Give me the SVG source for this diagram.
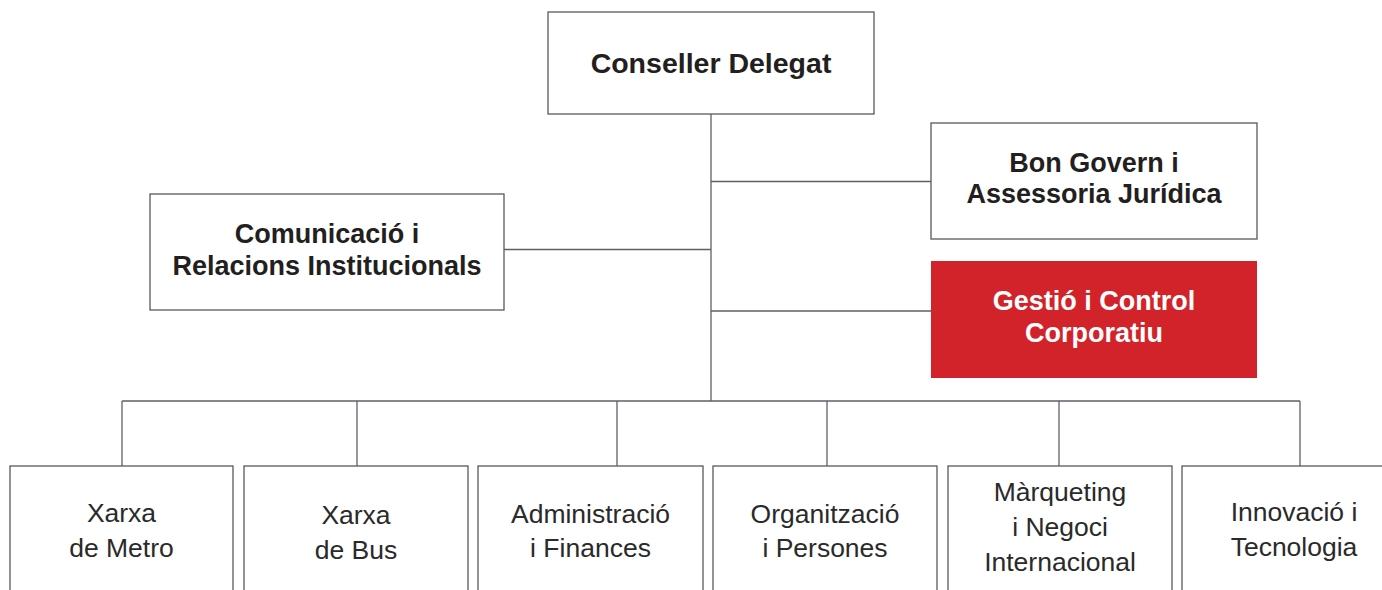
<svg xmlns="http://www.w3.org/2000/svg" width="1382" height="590" viewBox="0 0 1382 590">
<style>
  .box { fill: #ffffff; stroke: #58595b; stroke-width: 1.3; }
  .red { fill: #d2232a; stroke: none; }
  .conn { stroke: #5b6068; stroke-width: 1.3; fill: none; }
  .hb { font-family: "Liberation Sans", Arial, Helvetica, sans-serif; font-weight: bold; font-size: 27px; fill: #231f20; text-anchor: middle; }
  .hw { font-family: "Liberation Sans", Arial, Helvetica, sans-serif; font-weight: bold; font-size: 27px; fill: #ffffff; text-anchor: middle; }
  .t { font-family: "Liberation Sans", Arial, Helvetica, sans-serif; font-size: 26.5px; fill: #2a2a2a; text-anchor: middle; }
</style>
<rect x="0" y="0" width="1382" height="590" fill="#ffffff"/>
<g id="connectors">
  <line class="conn" x1="711" y1="114" x2="711" y2="401"/>
  <line class="conn" x1="711" y1="181.5" x2="931" y2="181.5"/>
  <line class="conn" x1="504" y1="249.5" x2="711" y2="249.5"/>
  <line class="conn" x1="711" y1="311" x2="931" y2="311"/>
  <line class="conn" x1="122" y1="401" x2="1300" y2="401"/>
  <line class="conn" x1="122" y1="401" x2="122" y2="466"/>
  <line class="conn" x1="357" y1="401" x2="357" y2="466"/>
  <line class="conn" x1="617" y1="401" x2="617" y2="466"/>
  <line class="conn" x1="827" y1="401" x2="827" y2="466"/>
  <line class="conn" x1="1059" y1="401" x2="1059" y2="466"/>
  <line class="conn" x1="1300" y1="401" x2="1300" y2="466"/>
</g>
<g id="conseller">
  <rect class="box" x="548" y="12" width="326" height="102"/>
  <text class="hb" x="711" y="73" style="font-size:28.5px">Conseller Delegat</text>
</g>
<g id="bon-govern">
  <rect class="box" x="931" y="123" width="326" height="116"/>
  <text class="hb" x="1094" y="172">Bon Govern i</text>
  <text class="hb" x="1094" y="203">Assessoria Jurídica</text>
</g>
<g id="comunicacio">
  <rect class="box" x="150" y="194" width="354" height="116"/>
  <text class="hb" x="327" y="243">Comunicació i</text>
  <text class="hb" x="327" y="275">Relacions Institucionals</text>
</g>
<g id="gestio">
  <rect class="red" x="931" y="261" width="326" height="117"/>
  <text class="hw" x="1094" y="310">Gestió i Control</text>
  <text class="hw" x="1094" y="342">Corporatiu</text>
</g>
<g id="xarxa-metro">
  <rect class="box" x="10" y="466" width="223" height="140"/>
  <text class="t" x="121.5" y="522">Xarxa</text>
  <text class="t" x="121.5" y="557">de Metro</text>
</g>
<g id="xarxa-bus">
  <rect class="box" x="244" y="466" width="224" height="140"/>
  <text class="t" x="356" y="524">Xarxa</text>
  <text class="t" x="356" y="559">de Bus</text>
</g>
<g id="administracio">
  <rect class="box" x="478" y="466" width="225" height="140"/>
  <text class="t" x="590.5" y="523">Administració</text>
  <text class="t" x="590.5" y="557">i Finances</text>
</g>
<g id="organitzacio">
  <rect class="box" x="713" y="466" width="224" height="140"/>
  <text class="t" x="825" y="523">Organització</text>
  <text class="t" x="825" y="557">i Persones</text>
</g>
<g id="marqueting">
  <rect class="box" x="948" y="466" width="224" height="140"/>
  <text class="t" x="1060" y="501">Màrqueting</text>
  <text class="t" x="1060" y="536">i Negoci</text>
  <text class="t" x="1060" y="571">Internacional</text>
</g>
<g id="innovacio">
  <rect class="box" x="1182" y="466" width="224" height="140"/>
  <text class="t" x="1294" y="521">Innovació i</text>
  <text class="t" x="1294" y="556">Tecnologia</text>
</g>
</svg>
